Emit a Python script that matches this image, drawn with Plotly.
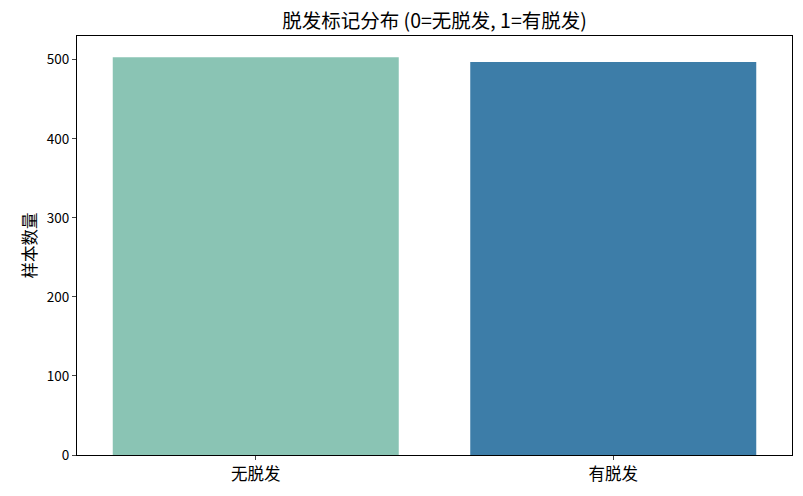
import plotly.graph_objects as go

categories = ['无脱发', '有脱发']
counts = [503, 497]
colors = ['#8AC4B4', '#3D7DA8']

fig = go.Figure()
fig.add_trace(go.Bar(x=[0, 1], y=counts, marker_color=colors, width=0.8,
                     marker_line_width=0))

fig.update_layout(
    width=803, height=496,
    margin=dict(l=77, r=11, t=36, b=41),
    plot_bgcolor='white', paper_bgcolor='white',
    font=dict(family='Noto Sans CJK SC', size=12, color='black'),
    title=dict(text='脱发标记分布 (0=无脱发, 1=有脱发)', x=(77 + 792) / 2 / 803,
               xanchor='center', y=0.958, yanchor='middle', font=dict(size=19.5)),
    showlegend=False,
)
fig.update_xaxes(range=[-0.5, 1.5], tickvals=[0, 1], ticktext=categories,
                 showline=True, linecolor='black', linewidth=1, mirror=True,
                 ticks='outside', ticklen=4, tickfont=dict(size=16.5),
                 showgrid=False, zeroline=False)
fig.update_yaxes(range=[0, 530], tickvals=[0, 100, 200, 300, 400, 500],
                 showline=True, linecolor='black', linewidth=1, mirror=True,
                 ticks='outside', ticklen=4, tickfont=dict(size=13.5),
                 title=dict(text='样本数量', font=dict(size=16.5), standoff=6),
                 showgrid=False, zeroline=False)

fig.write_html('out.html', config={'displayModeBar': False},
               post_script="document.body.style.margin='0';")
